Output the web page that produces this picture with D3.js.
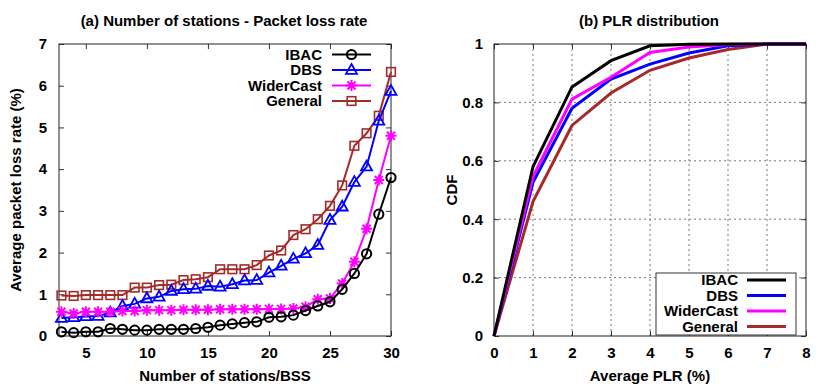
<!DOCTYPE html>
<html>
<head>
<meta charset="utf-8">
<script src="https://cdn.jsdelivr.net/npm/d3@7"></script>
<style>
  body { margin: 0; background: #fff; }
  svg { display: block; font-family: "Liberation Sans", Arial, sans-serif; font-weight: bold; }
</style>
</head>
<body>
<svg id="chart" width="830" height="388"></svg>
<script>
// ---- data ----
const STATIONS = d3.range(3, 31);
const IBAC_PLR = [0.10, 0.08, 0.10, 0.10, 0.18, 0.16, 0.14, 0.14, 0.16, 0.16, 0.16, 0.18, 0.21, 0.26, 0.29, 0.32, 0.34, 0.45, 0.46, 0.50, 0.61, 0.72, 0.82, 1.12, 1.50, 1.97, 2.92, 3.80];
const DBS_PLR = [0.43, 0.45, 0.47, 0.48, 0.56, 0.72, 0.77, 0.90, 0.94, 1.08, 1.12, 1.13, 1.20, 1.18, 1.24, 1.33, 1.34, 1.52, 1.68, 1.85, 1.98, 2.18, 2.78, 3.10, 3.69, 4.06, 5.16, 5.87];
const WIDERCAST_PLR = [0.58, 0.54, 0.58, 0.58, 0.58, 0.60, 0.60, 0.62, 0.62, 0.62, 0.63, 0.63, 0.63, 0.64, 0.64, 0.64, 0.64, 0.65, 0.65, 0.66, 0.70, 0.88, 0.90, 1.26, 1.78, 2.57, 3.74, 4.80];
const GENERAL_PLR = [0.97, 0.96, 0.98, 0.98, 0.98, 0.98, 1.16, 1.16, 1.22, 1.23, 1.34, 1.36, 1.41, 1.60, 1.60, 1.60, 1.70, 1.93, 2.05, 2.42, 2.56, 2.80, 3.12, 3.61, 4.56, 4.86, 5.28, 6.33];

const PLR_BINS = [0, 1, 2, 3, 4, 5, 6, 7, 8];
const IBAC_CDF = [0, 0.58, 0.853, 0.943, 0.994, 0.999, 1, 1, 1];
const DBS_CDF = [0, 0.526, 0.78, 0.88, 0.931, 0.969, 0.994, 1, 1];
const WIDERCAST_CDF = [0, 0.546, 0.811, 0.886, 0.971, 0.99, 0.998, 1, 1];
const GENERAL_CDF = [0, 0.46, 0.721, 0.832, 0.91, 0.952, 0.981, 1, 1];

const SERIES_NAMES = ["IBAC", "DBS", "WiderCast", "General"];
const LEFT_TICKS_X = [5, 10, 15, 20, 25, 30];
const LEFT_TICKS_Y = [0, 1, 2, 3, 4, 5, 6, 7];
const RIGHT_TICKS_X = [0, 1, 2, 3, 4, 5, 6, 7, 8];
const RIGHT_TICKS_Y = [0, 0.2, 0.4, 0.6, 0.8, 1];

const colors = { IBAC: "#000000", DBS: "#0000ff", WiderCast: "#ff00ff", General: "#a52a2a" };
const markers = { IBAC: "circle", DBS: "triangle", WiderCast: "star", General: "square" };
const FS = "15px";

const svg = d3.select("#chart");

// shared axis drawing: gnuplot-ish inward ticks, mirrored
function frame(g, x, y, xt, yt, w, h, fmtY, padY, grid) {
  if (grid) {
    g.selectAll(".gx").data(xt.filter(d => d !== x.domain()[0] && d !== x.domain()[1])).join("line")
      .attr("x1", d => x(d)).attr("x2", d => x(d)).attr("y1", 0).attr("y2", h)
      .attr("stroke", "#777").attr("stroke-width", 1).attr("stroke-dasharray", "2,3");
    g.selectAll(".gy").data(yt.filter(d => d !== y.domain()[0] && d !== y.domain()[1])).join("line")
      .attr("x1", 0).attr("x2", w).attr("y1", d => y(d)).attr("y2", d => y(d))
      .attr("stroke", "#777").attr("stroke-width", 1).attr("stroke-dasharray", "2,3");
  }
  const style = sel => {
    sel.select(".domain").remove();
    sel.selectAll(".tick line").attr("stroke", "#333");
    sel.selectAll(".tick text").attr("fill", "#000").style("font-size", FS).style("font-weight", "bold")
      .style("font-family", "'Liberation Sans', Arial, sans-serif");
  };
  g.append("g").attr("transform", `translate(0,${h})`)
    .call(d3.axisBottom(x).tickValues(xt).tickSizeInner(-5).tickSizeOuter(0).tickPadding(11)).call(style);
  g.append("g")
    .call(d3.axisTop(x).tickValues(xt).tickSizeInner(-5).tickSizeOuter(0)).call(style)
    .call(s => s.selectAll(".tick text").remove());
  g.append("g")
    .call(d3.axisLeft(y).tickValues(yt).tickSizeInner(-5).tickSizeOuter(0).tickPadding(padY).tickFormat(fmtY)).call(style);
  g.append("g").attr("transform", `translate(${w},0)`)
    .call(d3.axisRight(y).tickValues(yt).tickSizeInner(-5).tickSizeOuter(0)).call(style)
    .call(s => s.selectAll(".tick text").remove());
  g.append("rect").attr("width", w).attr("height", h)
    .attr("fill", "none").attr("stroke", "#222").attr("stroke-width", 1);
}

function drawMarker(sel, kind, color) {
  if (kind === "circle") {
    sel.append("circle").attr("r", 4.6).attr("fill", "none").attr("stroke", color).attr("stroke-width", 2);
  } else if (kind === "square") {
    sel.append("rect").attr("x", -4.3).attr("y", -4.3).attr("width", 8.6).attr("height", 8.6)
      .attr("fill", "none").attr("stroke", color).attr("stroke-width", 1.6);
  } else if (kind === "triangle") {
    sel.append("path").attr("d", "M0,-6L5.5,3.8L-5.5,3.8Z")
      .attr("fill", "none").attr("stroke", color).attr("stroke-width", 1.8);
  } else {
    sel.append("path").attr("d", "M-5.5,0H5.5M0,-5.5V5.5M-4,-4L4,4M-4,4L4,-4")
      .attr("fill", "none").attr("stroke", color).attr("stroke-width", 2);
  }
}

// ---- (a) left chart ----
{
  const m = { left: 59, top: 44, w: 332, h: 292 };
  const g = svg.append("g").attr("transform", `translate(${m.left},${m.top})`);
  const x = d3.scaleLinear().domain([2.8, 30]).range([0, m.w]);
  const y = d3.scaleLinear().domain([0, 7]).range([m.h, 0]);
  frame(g, x, y, LEFT_TICKS_X, LEFT_TICKS_Y, m.w, m.h, d3.format("d"), 12, false);

  const values = { IBAC: IBAC_PLR, DBS: DBS_PLR, WiderCast: WIDERCAST_PLR, General: GENERAL_PLR };
  const line = d3.line().x(d => x(d[0])).y(d => y(d[1]));
  ["General", "DBS", "WiderCast", "IBAC"].forEach(name => {
    const pts = STATIONS.map((s, i) => [s, values[name][i]]);
    g.append("path").datum(pts).attr("d", line)
      .attr("fill", "none").attr("stroke", colors[name]).attr("stroke-width", 2);
    g.selectAll(null).data(pts).join("g")
      .attr("transform", d => `translate(${x(d[0])},${y(d[1])})`)
      .each(function () { drawMarker(d3.select(this), markers[name], colors[name]); });
  });

  // legend
  const lg = g.append("g");
  SERIES_NAMES.forEach((name, i) => {
    const yy = 10.5 + i * 15.5;
    lg.append("text").attr("x", 263).attr("y", yy).attr("dy", "0.35em")
      .attr("text-anchor", "end").style("font-size", FS).text(name);
    lg.append("line").attr("x1", 273).attr("x2", 312).attr("y1", yy).attr("y2", yy)
      .attr("stroke", colors[name]).attr("stroke-width", 2);
    drawMarker(lg.append("g").attr("transform", `translate(292.5,${yy})`), markers[name], colors[name]);
  });

  svg.append("text").attr("x", 224).attr("y", 21).attr("dy", "0.35em")
    .attr("text-anchor", "middle").style("font-size", FS)
    .text("(a) Number of stations - Packet loss rate");
  svg.append("text").attr("x", 225).attr("y", 376).attr("dy", "0.35em")
    .attr("text-anchor", "middle").style("font-size", FS).text("Number of stations/BSS");
  svg.append("text").attr("transform", "translate(16,190) rotate(-90)").attr("dy", "0.35em")
    .attr("text-anchor", "middle").style("font-size", FS).text("Average packet loss rate (%)");
}

// ---- (b) right chart ----
{
  const m = { left: 494, top: 44, w: 312, h: 292 };
  const g = svg.append("g").attr("transform", `translate(${m.left},${m.top})`);
  const x = d3.scaleLinear().domain([0, 8]).range([0, m.w]);
  const y = d3.scaleLinear().domain([0, 1]).range([m.h, 0]);
  frame(g, x, y, RIGHT_TICKS_X, RIGHT_TICKS_Y, m.w, m.h,
    d => d === 0 || d === 1 ? d3.format("d")(d) : d3.format(".1f")(d), 11, true);

  const values = { IBAC: IBAC_CDF, DBS: DBS_CDF, WiderCast: WIDERCAST_CDF, General: GENERAL_CDF };
  const line = d3.line().x(d => x(d[0])).y(d => y(d[1]));
  ["General", "DBS", "WiderCast", "IBAC"].forEach(name => {
    const pts = PLR_BINS.map((b, i) => [b, values[name][i]]);
    g.append("path").datum(pts).attr("d", line)
      .attr("fill", "none").attr("stroke", colors[name]).attr("stroke-width", 3);
  });

  // legend box
  const lg = g.append("g");
  lg.append("rect").attr("x", 162).attr("y", 229).attr("width", 140).attr("height", 62)
    .attr("fill", "#fff").attr("stroke", "#333").attr("stroke-width", 1);
  SERIES_NAMES.forEach((name, i) => {
    const yy = 236 + i * 15.5;
    lg.append("text").attr("x", 244).attr("y", yy).attr("dy", "0.35em")
      .attr("text-anchor", "end").style("font-size", FS).text(name);
    lg.append("line").attr("x1", 253).attr("x2", 292).attr("y1", yy).attr("y2", yy)
      .attr("stroke", colors[name]).attr("stroke-width", 3);
  });

  svg.append("text").attr("x", 649).attr("y", 21).attr("dy", "0.35em")
    .attr("text-anchor", "middle").style("font-size", FS).text("(b) PLR distribution");
  svg.append("text").attr("x", 650).attr("y", 376).attr("dy", "0.35em")
    .attr("text-anchor", "middle").style("font-size", FS).text("Average PLR (%)");
  svg.append("text").attr("transform", "translate(452,190) rotate(-90)").attr("dy", "0.35em")
    .attr("text-anchor", "middle").style("font-size", FS).text("CDF");
}
</script>
</body>
</html>
